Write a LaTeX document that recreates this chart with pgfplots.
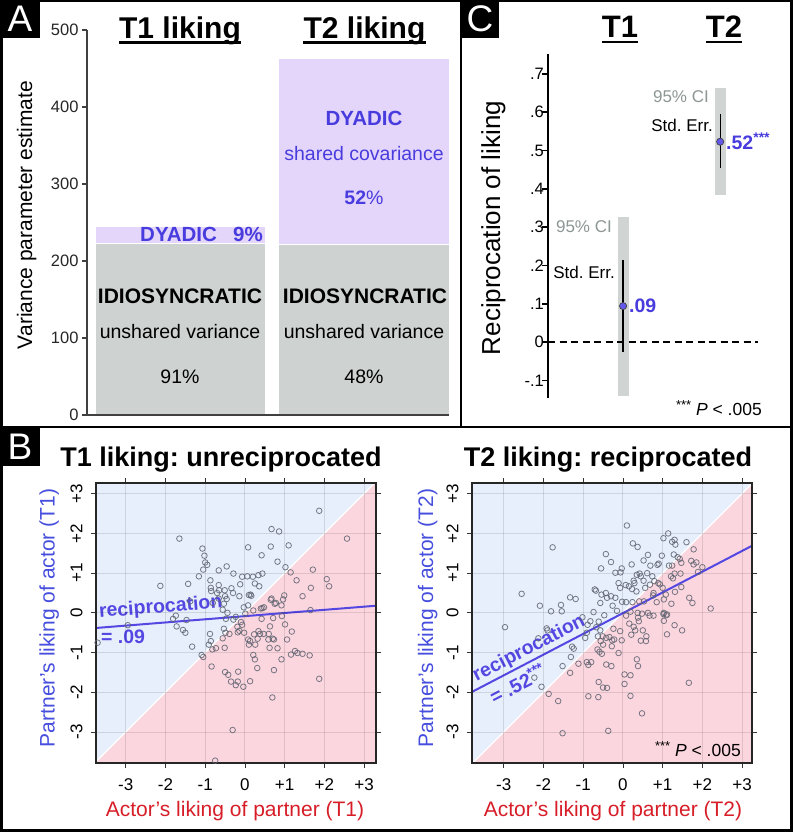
\documentclass[border=0pt]{standalone}
\usepackage{pgfplots}
\pgfplotsset{compat=1.18}
\usepackage{fontspec}
\setmainfont{Liberation Sans}
\frenchspacing
\newcommand{\fs}[1]{\fontsize{#1}{#1}\selectfont}
\definecolor{barGray}{RGB}{206,210,209}
\definecolor{barPurple}{RGB}{228,213,250}
\definecolor{dyBlue}{RGB}{72,60,222}
\definecolor{ciGray}{RGB}{208,212,210}
\definecolor{ciText}{RGB}{140,150,148}
\definecolor{bgBlue}{RGB}{231,239,252}
\definecolor{bgPink}{RGB}{251,214,223}
\definecolor{labRed}{RGB}{215,30,40}
\definecolor{labBlue}{RGB}{70,78,222}
\definecolor{lineBlue}{RGB}{85,72,226}
\definecolor{ptBlue}{RGB}{100,88,235}
\definecolor{mkGray}{RGB}{95,100,112}

\pgfplotstableread{
x y
1.87 2.57
0.67 2.11
0.86 2.05
2.57 1.87
-1.65 1.87
0.65 1.67
1.10 1.70
0.08 1.65
-1.07 1.62
-1.02 1.44
0.42 1.45
-1.00 1.27
-0.95 1.21
0.82 1.29
-0.46 1.17
1.02 1.15
-1.05 1.09
1.71 1.09
-0.66 1.07
1.15 1.02
-0.29 0.99
-1.16 0.92
-0.07 0.91
0.06 0.92
0.20 0.91
0.34 0.95
0.44 0.99
2.06 0.85
-0.87 0.82
1.30 0.82
0.25 0.74
-0.12 0.72
-1.43 0.73
-2.13 0.68
-0.66 0.70
0.36 0.67
2.12 0.67
-0.86 0.63
-0.34 0.62
1.66 0.63
-0.65 0.57
-0.51 0.57
0.14 0.46
0.16 0.43
-0.14 0.42
0.99 0.44
1.45 0.42
-0.50 0.42
-0.46 0.35
-0.66 0.36
0.67 0.36
0.96 0.34
0.75 0.23
0.92 0.19
-1.38 0.29
-0.81 0.25
-0.53 0.23
0.08 0.19
0.48 0.14
0.40 0.11
-0.03 0.14
0.21 0.06
-0.56 0.08
1.65 0.07
0.01 -0.02
-0.44 0.00
-0.23 -0.10
-0.29 -0.17
-0.48 -0.15
0.42 -0.15
0.71 -0.13
0.93 -0.08
-1.74 -0.07
-1.81 -0.15
-1.47 -0.18
-1.72 -0.34
-2.95 -0.31
-1.56 -0.43
-1.50 -0.50
-3.71 -0.75
-1.33 -0.85
-0.10 -0.23
-0.07 -0.30
-0.19 -0.35
-0.14 -0.45
-0.18 -0.49
-0.88 -0.53
-0.53 -0.40
-0.49 -0.50
-0.39 -0.53
-0.02 -0.50
0.23 -0.54
0.34 -0.46
0.38 -0.53
0.47 -0.53
0.60 -0.53
1.01 -0.29
1.18 -0.47
0.63 -0.34
-0.56 -0.64
0.08 -0.67
0.13 -0.71
0.32 -0.65
0.59 -0.67
0.70 -0.65
0.73 -0.67
1.06 -0.67
-0.86 -0.71
0.26 -0.80
0.10 -0.80
0.62 -0.88
0.82 -0.89
-0.73 -0.89
-0.51 -0.88
-0.82 -0.92
-0.91 -0.80
1.26 -0.96
1.32 -1.01
1.16 -1.05
1.45 -1.03
1.63 -1.07
0.21 -1.06
-1.09 -1.06
-1.05 -1.11
0.25 -1.17
0.92 -1.17
-0.84 -1.35
0.31 -1.39
0.73 -1.44
-0.17 -1.48
-0.50 -1.49
-0.42 -1.56
-0.35 -1.73
-0.18 -1.73
0.13 -1.72
-0.23 -1.82
-0.04 -1.86
1.87 -1.66
0.69 -2.13
-0.31 -2.95
-0.75 -3.72
-0.85 0.55
-0.70 0.50
-0.30 0.50
0.10 0.45
0.44 0.12
0.65 0.33
0.78 0.25
}\tone

\pgfplotstableread{
x y
0.10 2.20
1.14 2.00
1.02 1.88
1.30 1.84
1.24 1.79
1.32 1.72
1.60 1.78
0.25 1.75
0.37 1.66
-1.77 1.65
1.78 1.60
-0.43 1.48
0.63 1.46
0.98 1.44
1.28 1.47
1.38 1.40
1.43 1.36
0.52 1.32
-0.30 1.28
1.72 1.31
1.85 1.27
1.78 1.22
0.90 1.24
0.87 1.21
0.69 1.19
0.22 1.22
1.16 1.19
1.24 1.19
1.47 1.26
-0.55 1.12
-0.03 1.12
-0.06 1.02
-0.19 1.01
0.42 0.99
0.35 0.96
0.61 1.00
0.45 0.92
0.74 0.92
2.00 1.15
1.89 1.03
1.30 0.99
1.45 0.99
1.21 0.92
1.26 0.87
0.27 0.81
0.29 0.75
0.52 0.81
0.79 0.80
0.89 0.75
0.93 0.72
0.68 0.71
-0.11 0.75
0.07 0.70
0.15 0.67
-0.07 0.63
-0.71 0.59
-0.68 0.56
-0.43 0.50
0.23 0.60
0.34 0.54
0.56 0.63
0.77 0.50
1.31 0.53
1.47 0.65
1.00 0.63
1.08 0.46
0.76 0.44
-2.55 0.48
-1.33 0.39
-1.19 0.35
-0.54 0.46
-0.40 0.38
-0.30 0.42
-0.19 0.38
-0.57 0.25
-0.26 0.18
-0.02 0.28
0.08 0.27
0.24 0.27
0.41 0.29
0.53 0.29
0.85 0.27
1.03 0.34
1.22 0.23
1.67 0.38
1.75 0.25
2.21 0.11
-2.09 0.18
-1.56 0.20
-1.81 0.04
-1.54 0.04
-0.74 0.02
-0.47 -0.06
-0.15 0.05
0.19 0.03
0.37 0.00
0.48 -0.02
0.63 0.00
0.67 -0.07
0.77 -0.07
0.38 -0.12
0.08 -0.07
1.03 0.00
1.11 -0.04
-1.02 -0.11
-2.97 -0.36
-1.92 -0.39
-1.90 -0.44
-0.82 -0.21
-0.61 -0.22
-0.89 -0.30
-0.67 -0.36
-0.57 -0.44
-0.24 -0.40
-0.07 -0.46
0.16 -0.27
0.27 -0.35
0.40 -0.21
0.31 -0.44
1.03 -0.20
1.30 -0.31
1.49 -0.44
0.50 -0.44
0.21 -0.55
0.59 -0.59
1.11 -0.54
-0.03 -0.69
0.45 -0.70
0.58 -0.71
-0.91 -0.50
-0.95 -0.63
-0.63 -0.59
-0.51 -0.59
-0.42 -0.63
-0.34 -0.61
-0.27 -0.69
-0.22 -0.67
-0.56 -0.71
-0.28 -0.84
-0.50 -0.80
-1.28 -0.85
-1.24 -0.90
-0.64 -0.92
-0.59 -0.98
-0.53 -1.03
-0.11 -1.01
-1.31 -1.11
0.35 -1.17
0.38 -1.34
-0.42 -1.30
-0.29 -1.34
-0.91 -1.24
-0.80 -1.24
-0.87 -1.31
-1.12 -1.28
-1.52 -1.34
-1.33 -1.51
-2.23 -1.63
-2.05 -1.86
0.04 -1.55
0.19 -1.57
-0.61 -1.74
-0.50 -1.88
-0.40 -1.89
0.04 -1.79
1.66 -1.76
-1.87 -2.04
-0.87 -2.10
-0.62 -2.12
0.19 -2.09
-1.63 -2.22
0.48 -2.53
-0.37 -2.97
-1.52 -3.03
-2.13 -0.64
1.02 -0.03
1.09 -0.06
}\ttwo

\begin{document}
\begin{tikzpicture}[x=1pt,y=1pt]
\useasboundingbox (0,0) rectangle (793,-832);

% ---------------- Panel A ----------------
\begin{axis}[
  at={(87pt,-415pt)}, anchor=south west,
  scale only axis, width=362pt, height=385pt,
  xmin=87, xmax=449, ymin=0, ymax=500,
  axis on top,
  axis x line=bottom, axis y line=left,
  axis line style={-, black!75, line width=1.2pt},
  xtick=\empty,
  ytick={0,100,200,300,400,500},
  tick align=outside, major tick length=5pt,
  ytick style={black!75, line width=1.2pt},
  yticklabel style={font=\fs{16.5}, text=black!85},
  /pgf/number format/assume math mode=true,
  ybar stacked, bar width=171,
  clip=false,
]
\addplot [fill=barGray, draw=white, line width=1.2pt] coordinates {(180.5,223) (364,221)};
\addplot [fill=barPurple, draw=white, line width=1.2pt] coordinates {(180.5,22) (364,242)};
\end{axis}

\node[anchor=base, inner sep=0, font=\fs{30}\bfseries] (a1) at (180,-39) {T1 liking};
\draw[line width=2.5pt] ([yshift=-3.5pt]a1.base west) -- ([yshift=-3.5pt]a1.base east);
\node[anchor=base, inner sep=0, font=\fs{30}\bfseries] (a2) at (364.5,-39) {T2 liking};
\draw[line width=2.5pt] ([yshift=-3.5pt]a2.base west) -- ([yshift=-3.5pt]a2.base east);

\node[rotate=90, anchor=base, inner sep=0, font=\fs{21}] at (32,-215) {Variance parameter estimate};

\node[anchor=base west, inner sep=0, font=\fs{20.5}\bfseries, text=dyBlue] at (140,-241) {DYADIC};
\node[anchor=base west, inner sep=0, font=\fs{20.5}\bfseries, text=dyBlue] at (233,-241) {9\%};
\node[anchor=base, inner sep=0, font=\fs{20.5}\bfseries, text=dyBlue] at (364,-125) {DYADIC};
\node[anchor=base, inner sep=0, font=\fs{19.5}, text=dyBlue] at (364,-160.5) {shared covariance};
\node[anchor=base, inner sep=0, font=\fs{19.5}, text=dyBlue] at (364,-204) {\textbf{52}\%};

\node[anchor=base, inner sep=0, font=\fs{21}\bfseries] at (180,-303) {IDIOSYNCRATIC};
\node[anchor=base, inner sep=0, font=\fs{19.5}] at (180,-338.5) {unshared variance};
\node[anchor=base, inner sep=0, font=\fs{19.5}] at (180,-383) {91\%};
\node[anchor=base, inner sep=0, font=\fs{21}\bfseries] at (365,-303) {IDIOSYNCRATIC};
\node[anchor=base, inner sep=0, font=\fs{19.5}] at (364,-338.5) {unshared variance};
\node[anchor=base, inner sep=0, font=\fs{19.5}] at (364,-383) {48\%};

% ---------------- Panel C ----------------
\begin{axis}[
  at={(548pt,-398pt)}, anchor=south west,
  scale only axis, width=211pt, height=344pt,
  xmin=0.227, xmax=2.4, ymin=-0.146, ymax=0.752,
  axis x line=none, axis y line=left,
  axis line style={-, black, line width=2pt},
  ytick={-0.1,0,0.1,0.2,0.3,0.4,0.5,0.6,0.7},
  yticklabels={-.1,0,.1,.2,.3,.4,.5,.6,.7},
  tick align=outside, major tick length=6pt,
  ytick style={black, line width=1.5pt},
  yticklabel style={font=\fs{16.5}, inner sep=1pt},
  yticklabel shift=-3pt,
  clip=false,
]
\addplot [ciGray, line width=11pt] coordinates {(1,-0.141) (1,0.326)};
\addplot [ciGray, line width=11pt] coordinates {(2,0.384) (2,0.663)};
\addplot [black, line width=2pt, dash pattern=on 7pt off 4.5pt] coordinates {(0.227,0) (2.39,0)};
\addplot [black, line width=1.2pt] coordinates {(1,-0.026) (1,0.214)};
\addplot [black, line width=1.2pt] coordinates {(2,0.454) (2,0.595)};
\addplot [only marks, mark=*, mark size=3.6pt, mark options={fill=ptBlue, draw=black!75, line width=0.7pt}] coordinates {(1,0.094) (2,0.523)};
\end{axis}

\node[anchor=base, inner sep=0, font=\fs{31}\bfseries] (c1) at (620,-38) {T1};
\draw[line width=2.5pt] ([yshift=-4pt]c1.base west) -- ([yshift=-4pt]c1.base east);
\node[anchor=base, inner sep=0, font=\fs{31}\bfseries] (c2) at (724,-38) {T2};
\draw[line width=2.5pt] ([yshift=-4pt]c2.base west) -- ([yshift=-4pt]c2.base east);

\node[rotate=90, anchor=base, inner sep=0, font=\fs{26}] at (500,-228) {Reciprocation of liking};

\node[anchor=east, inner sep=0, font=\fs{17}, text=ciText] at (612,-227) {95\% CI};
\node[anchor=east, inner sep=0, font=\fs{17}] at (615,-272) {Std. Err.};
\node[anchor=west, inner sep=0, font=\fs{19.5}\bfseries, text=dyBlue] at (629,-306) {.09};
\node[anchor=east, inner sep=0, font=\fs{17}, text=ciText] at (709,-97) {95\% CI};
\node[anchor=east, inner sep=0, font=\fs{17}] at (713,-125) {Std. Err.};
\node[anchor=west, inner sep=0, font=\fs{19.5}\bfseries, text=dyBlue] at (726,-141) {.52\raisebox{0.38em}{\fs{14}***}};
\node[anchor=east, inner sep=0, font=\fs{17.5}] at (762,-408) {\raisebox{0.3em}{\fs{13}***}\ \textit{P} < .005};

% ---------------- Panel B ----------------
\pgfplotsset{
  scatB/.style={
    scale only axis, width=280pt, height=280pt,
    axis on top,
    axis line style={black!85, line width=1.2pt},
    xtick={-3,-2,-1,0,1,2,3},
    xticklabels={-3,-2,-1,0,+1,+2,+3},
    ytick={-3,-2,-1,0,1,2,3},
    yticklabels={-3,-2,-1,0,+1,+2,+3},
    tick align=outside, major tick length=5pt,
    tick style={black!80, line width=0.8pt},
    xticklabel style={font=\fs{17}},
    yticklabel style={font=\fs{17}, rotate=90, anchor=south},
    xticklabel shift=7pt,
    yticklabel shift=5pt,
    grid=major,
    major grid style={black, opacity=0.11, line width=0.9pt},
  },
  mk/.style={only marks, mark=o, mark size=2.8pt,
    mark options={draw=mkGray, line width=0.8pt, opacity=0.85}},
}

\begin{axis}[scatB, at={(96pt,-763pt)}, anchor=south west,
  xmin=-3.75, xmax=3.30, ymin=-3.78, ymax=3.27]
\addplot [fill=bgBlue, draw=none] coordinates {(-6,-6) (-6,6) (6,6)} -- cycle;
\addplot [fill=bgPink, draw=none] coordinates {(-6,-6) (6,6) (6,-6)} -- cycle;
\addplot [white, line width=1.3pt] coordinates {(-6,-6) (6,6)};
\addplot [mk] table {\tone};
\addplot [lineBlue, line width=2pt] coordinates {(-3.75,-0.38) (3.30,0.18)};
\node[rotate=4.5, font=\fs{19.5}\bfseries, text=lineBlue] at (axis cs:-2.12,0.13) {reciprocation};
\node[font=\fs{19.5}\bfseries, text=lineBlue] at (axis cs:-3.07,-0.60) {= .09};
\end{axis}

\begin{axis}[scatB, at={(472pt,-763pt)}, anchor=south west,
  xmin=-3.80, xmax=3.25, ymin=-3.78, ymax=3.27]
\addplot [fill=bgBlue, draw=none] coordinates {(-6,-6) (-6,6) (6,6)} -- cycle;
\addplot [fill=bgPink, draw=none] coordinates {(-6,-6) (6,6) (6,-6)} -- cycle;
\addplot [white, line width=1.3pt] coordinates {(-6,-6) (6,6)};
\addplot [mk] table {\ttwo};
\addplot [lineBlue, line width=2pt] coordinates {(-3.80,-1.99) (3.25,1.69)};
\node[rotate=27.5, font=\fs{19.5}\bfseries, text=lineBlue] at (axis cs:-2.36,-0.90) {reciprocation};
\node[rotate=27.5, font=\fs{19.5}\bfseries, text=lineBlue] at (axis cs:-2.66,-1.78) {= .52\raisebox{0.38em}{\fs{14}***}};
\end{axis}

\node[anchor=base, inner sep=0, font=\fs{27}\bfseries] at (221,-466.5) {T1 liking: unreciprocated};
\node[anchor=base, inner sep=0, font=\fs{27}\bfseries] at (608,-466.5) {T2 liking: reciprocated};

\node[anchor=base, inner sep=0, font=\fs{21}, text=labRed] at (235,-816.5) {Actor’s liking of partner (T1)};
\node[anchor=base, inner sep=0, font=\fs{21}, text=labRed] at (613,-816.5) {Actor’s liking of partner (T2)};
\node[rotate=90, anchor=base, inner sep=0, font=\fs{21}, text=labBlue] at (54.5,-618) {Partner’s liking of actor (T1)};
\node[rotate=90, anchor=base, inner sep=0, font=\fs{21}, text=labBlue] at (433,-618) {Partner’s liking of actor (T2)};

\node[anchor=east, inner sep=0, font=\fs{17.5}] at (741,-749) {\raisebox{0.3em}{\fs{13}***}\ \textit{P} < .005};

% ---------------- Frames and panel letters ----------------
\draw[line width=2.5pt] (1.25,-1.25) rectangle (791.5,-830.5);
\draw[line width=2pt] (0,-427) -- (792,-427);
\draw[line width=2pt] (461,0) -- (461,-427);
\fill[black] (0,0) rectangle (40,-38);
\node[text=white, font=\fs{37}, inner sep=0] at (20,-19) {A};
\fill[black] (461,0) rectangle (499,-38);
\node[text=white, font=\fs{37}, inner sep=0] at (480,-19) {C};
\fill[black] (0,-427) rectangle (40,-466);
\node[text=white, font=\fs{37}, inner sep=0] at (20,-446.5) {B};
\end{tikzpicture}
\end{document}
